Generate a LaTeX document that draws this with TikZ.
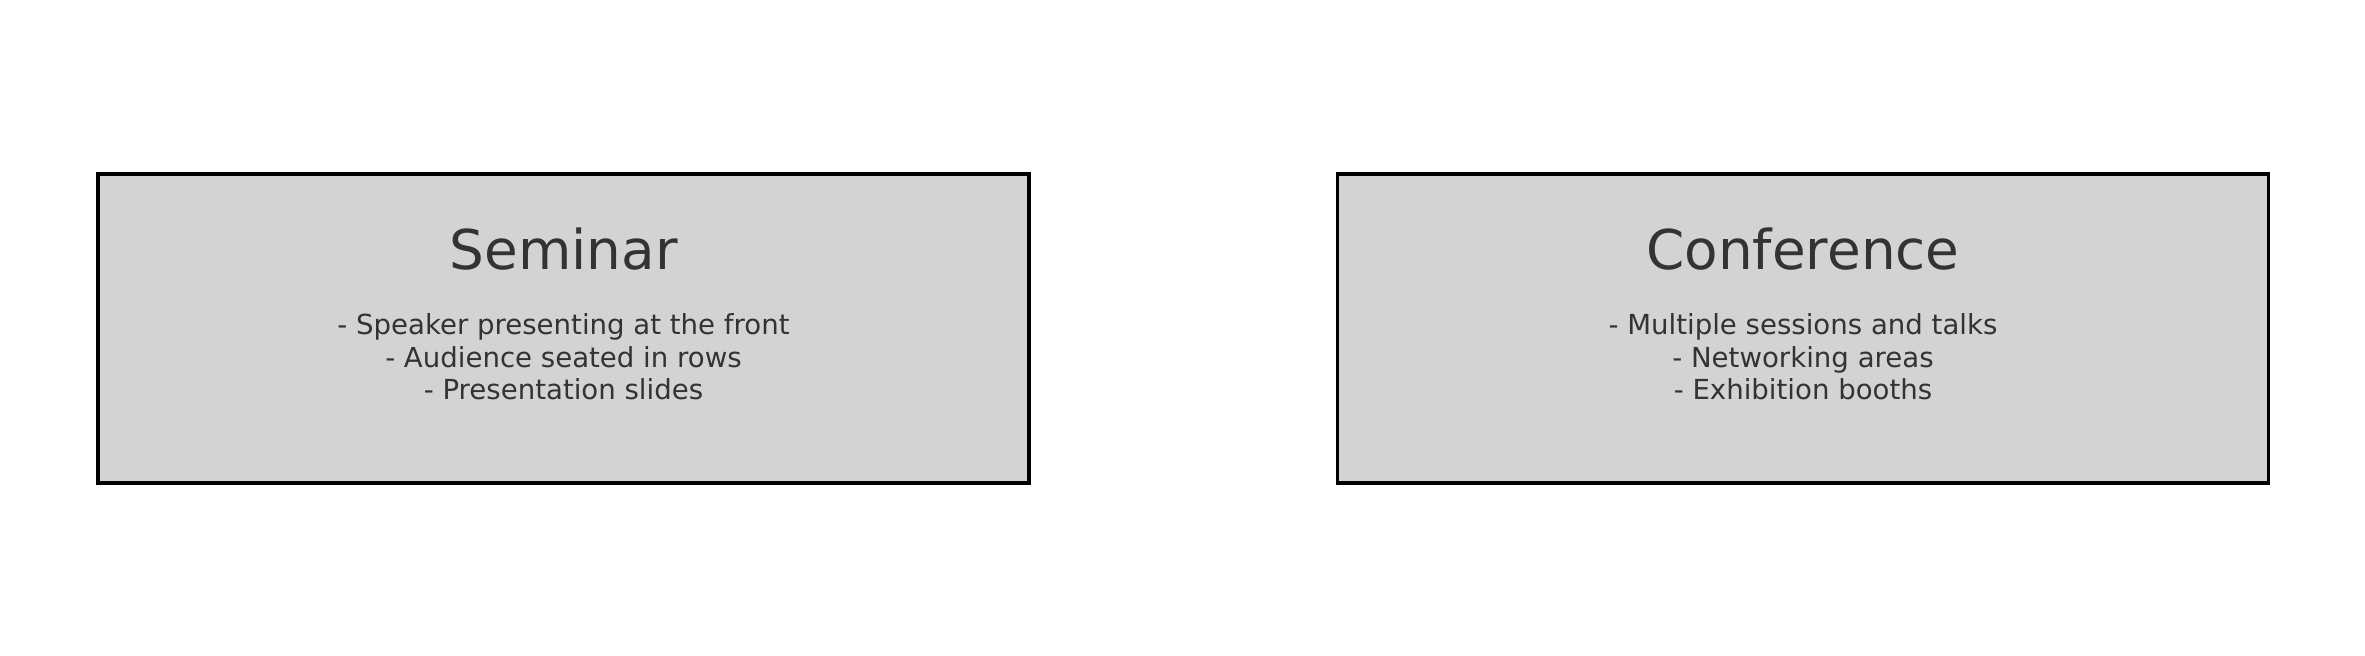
\documentclass[tikz,border=0pt]{standalone}
\usepackage{fontspec}
\setmainfont{DejaVu Sans}
\usepackage{xcolor}
\usepackage{tikz}
\usetikzlibrary{positioning}
\definecolor{boxG}{RGB}{211,211,211}
\definecolor{txtG}{RGB}{51,51,51}
\tikzset{venue/.style={draw=black, line width=1.1pt, fill=boxG, minimum width=9.31cm, minimum height=3.09cm, inner sep=0pt},
  venuetitle/.style={text=txtG, font=\fontsize{15.6}{18}\selectfont},
  venuelist/.style={text=txtG, align=center, font=\fontsize{7.85}{9.3}\selectfont}}

\begin{document}
\begin{tikzpicture}[scale=1.0]
\useasboundingbox (0,0) rectangle (23.65,6.56);
% seminar
\node[venue] (seminar) at (5.635,3.275) {};
\node[venuetitle] (seminarT) at (5.635,4.07) {Seminar};
\node[venuelist] (seminarL) at (5.635,2.99) {- Speaker presenting at the front\\- Audience seated in rows\\- Presentation slides};
% conference
\node[venue] (conference) at (18.03,3.275) {};
\node[venuetitle] (conferenceT) at (18.03,4.07) {Conference};
\node[venuelist] (conferenceL) at (18.03,2.99) {- Multiple sessions and talks\\- Networking areas\\- Exhibition booths};
\end{tikzpicture}
\end{document}
